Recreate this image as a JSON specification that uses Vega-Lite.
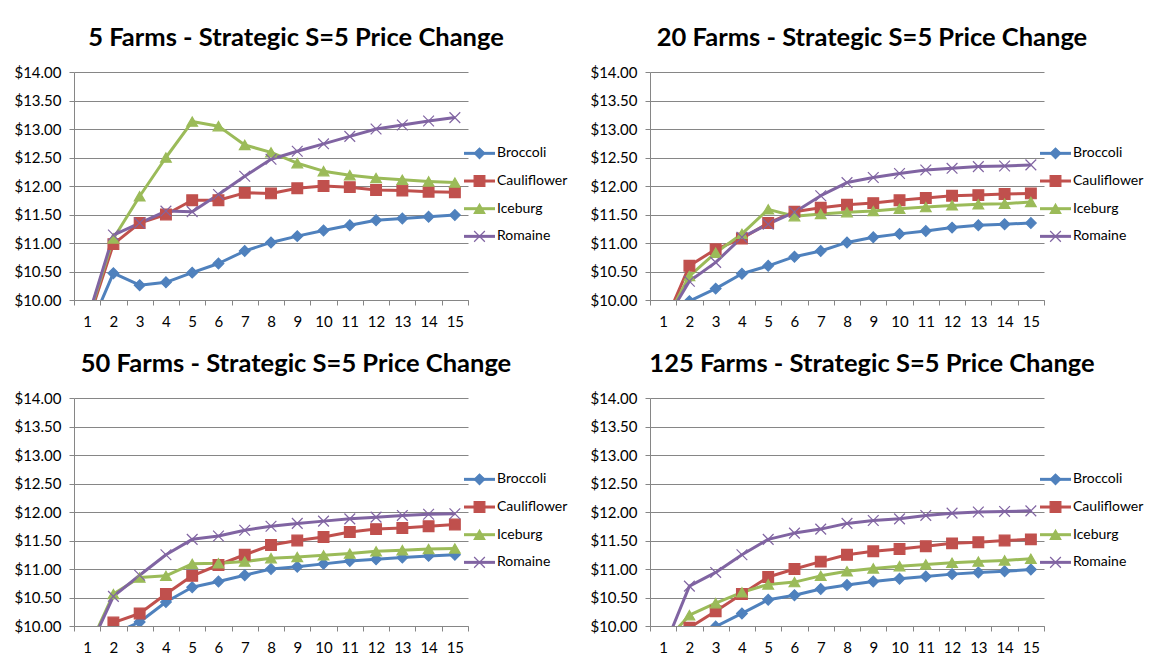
{
"$schema":"https://vega.github.io/schema/vega-lite/v6.json",
"background":"white",
"padding":{"left":13,"top":25,"right":0,"bottom":0},
"autosize":{"type":"pad"},
"config":{"font":"Lato","view":{"stroke":null},"axis":{"labelColor":"#000","domainColor":"#868686","tickColor":"#868686","gridColor":"#868686","labelFont":"Lato"}},
"datasets":{
"legend":[{"s":"Broccoli","i":0},{"s":"Cauliflower","i":1},{"s":"Iceburg","i":2},{"s":"Romaine","i":3}],
"prices":[
{"p":5,"s":"Broccoli","x":1,"y":9.40},{"p":5,"s":"Broccoli","x":2,"y":10.47},{"p":5,"s":"Broccoli","x":3,"y":10.26},{"p":5,"s":"Broccoli","x":4,"y":10.31},{"p":5,"s":"Broccoli","x":5,"y":10.48},{"p":5,"s":"Broccoli","x":6,"y":10.64},{"p":5,"s":"Broccoli","x":7,"y":10.86},{"p":5,"s":"Broccoli","x":8,"y":11.01},{"p":5,"s":"Broccoli","x":9,"y":11.12},{"p":5,"s":"Broccoli","x":10,"y":11.22},{"p":5,"s":"Broccoli","x":11,"y":11.31},{"p":5,"s":"Broccoli","x":12,"y":11.40},{"p":5,"s":"Broccoli","x":13,"y":11.43},{"p":5,"s":"Broccoli","x":14,"y":11.46},{"p":5,"s":"Broccoli","x":15,"y":11.49},
{"p":5,"s":"Cauliflower","x":1,"y":9.57},{"p":5,"s":"Cauliflower","x":2,"y":10.98},{"p":5,"s":"Cauliflower","x":3,"y":11.35},{"p":5,"s":"Cauliflower","x":4,"y":11.50},{"p":5,"s":"Cauliflower","x":5,"y":11.75},{"p":5,"s":"Cauliflower","x":6,"y":11.75},{"p":5,"s":"Cauliflower","x":7,"y":11.88},{"p":5,"s":"Cauliflower","x":8,"y":11.87},{"p":5,"s":"Cauliflower","x":9,"y":11.96},{"p":5,"s":"Cauliflower","x":10,"y":12.00},{"p":5,"s":"Cauliflower","x":11,"y":11.98},{"p":5,"s":"Cauliflower","x":12,"y":11.93},{"p":5,"s":"Cauliflower","x":13,"y":11.92},{"p":5,"s":"Cauliflower","x":14,"y":11.90},{"p":5,"s":"Cauliflower","x":15,"y":11.89},
{"p":5,"s":"Iceburg","x":1,"y":9.62},{"p":5,"s":"Iceburg","x":2,"y":11.08},{"p":5,"s":"Iceburg","x":3,"y":11.82},{"p":5,"s":"Iceburg","x":4,"y":12.50},{"p":5,"s":"Iceburg","x":5,"y":13.13},{"p":5,"s":"Iceburg","x":6,"y":13.05},{"p":5,"s":"Iceburg","x":7,"y":12.72},{"p":5,"s":"Iceburg","x":8,"y":12.59},{"p":5,"s":"Iceburg","x":9,"y":12.40},{"p":5,"s":"Iceburg","x":10,"y":12.26},{"p":5,"s":"Iceburg","x":11,"y":12.19},{"p":5,"s":"Iceburg","x":12,"y":12.14},{"p":5,"s":"Iceburg","x":13,"y":12.11},{"p":5,"s":"Iceburg","x":14,"y":12.08},{"p":5,"s":"Iceburg","x":15,"y":12.06},
{"p":5,"s":"Romaine","x":1,"y":9.64},{"p":5,"s":"Romaine","x":2,"y":11.14},{"p":5,"s":"Romaine","x":3,"y":11.35},{"p":5,"s":"Romaine","x":4,"y":11.56},{"p":5,"s":"Romaine","x":5,"y":11.55},{"p":5,"s":"Romaine","x":6,"y":11.85},{"p":5,"s":"Romaine","x":7,"y":12.17},{"p":5,"s":"Romaine","x":8,"y":12.47},{"p":5,"s":"Romaine","x":9,"y":12.61},{"p":5,"s":"Romaine","x":10,"y":12.74},{"p":5,"s":"Romaine","x":11,"y":12.87},{"p":5,"s":"Romaine","x":12,"y":13.00},{"p":5,"s":"Romaine","x":13,"y":13.07},{"p":5,"s":"Romaine","x":14,"y":13.14},{"p":5,"s":"Romaine","x":15,"y":13.20},
{"p":20,"s":"Broccoli","x":1,"y":9.40},{"p":20,"s":"Broccoli","x":2,"y":9.98},{"p":20,"s":"Broccoli","x":3,"y":10.20},{"p":20,"s":"Broccoli","x":4,"y":10.46},{"p":20,"s":"Broccoli","x":5,"y":10.60},{"p":20,"s":"Broccoli","x":6,"y":10.76},{"p":20,"s":"Broccoli","x":7,"y":10.86},{"p":20,"s":"Broccoli","x":8,"y":11.01},{"p":20,"s":"Broccoli","x":9,"y":11.10},{"p":20,"s":"Broccoli","x":10,"y":11.16},{"p":20,"s":"Broccoli","x":11,"y":11.21},{"p":20,"s":"Broccoli","x":12,"y":11.27},{"p":20,"s":"Broccoli","x":13,"y":11.31},{"p":20,"s":"Broccoli","x":14,"y":11.33},{"p":20,"s":"Broccoli","x":15,"y":11.35},
{"p":20,"s":"Cauliflower","x":1,"y":9.53},{"p":20,"s":"Cauliflower","x":2,"y":10.60},{"p":20,"s":"Cauliflower","x":3,"y":10.89},{"p":20,"s":"Cauliflower","x":4,"y":11.08},{"p":20,"s":"Cauliflower","x":5,"y":11.35},{"p":20,"s":"Cauliflower","x":6,"y":11.55},{"p":20,"s":"Cauliflower","x":7,"y":11.62},{"p":20,"s":"Cauliflower","x":8,"y":11.67},{"p":20,"s":"Cauliflower","x":9,"y":11.70},{"p":20,"s":"Cauliflower","x":10,"y":11.75},{"p":20,"s":"Cauliflower","x":11,"y":11.79},{"p":20,"s":"Cauliflower","x":12,"y":11.83},{"p":20,"s":"Cauliflower","x":13,"y":11.84},{"p":20,"s":"Cauliflower","x":14,"y":11.86},{"p":20,"s":"Cauliflower","x":15,"y":11.87},
{"p":20,"s":"Iceburg","x":1,"y":9.55},{"p":20,"s":"Iceburg","x":2,"y":10.42},{"p":20,"s":"Iceburg","x":3,"y":10.83},{"p":20,"s":"Iceburg","x":4,"y":11.16},{"p":20,"s":"Iceburg","x":5,"y":11.59},{"p":20,"s":"Iceburg","x":6,"y":11.47},{"p":20,"s":"Iceburg","x":7,"y":11.51},{"p":20,"s":"Iceburg","x":8,"y":11.54},{"p":20,"s":"Iceburg","x":9,"y":11.56},{"p":20,"s":"Iceburg","x":10,"y":11.60},{"p":20,"s":"Iceburg","x":11,"y":11.63},{"p":20,"s":"Iceburg","x":12,"y":11.66},{"p":20,"s":"Iceburg","x":13,"y":11.68},{"p":20,"s":"Iceburg","x":14,"y":11.69},{"p":20,"s":"Iceburg","x":15,"y":11.72},
{"p":20,"s":"Romaine","x":1,"y":9.56},{"p":20,"s":"Romaine","x":2,"y":10.33},{"p":20,"s":"Romaine","x":3,"y":10.66},{"p":20,"s":"Romaine","x":4,"y":11.10},{"p":20,"s":"Romaine","x":5,"y":11.33},{"p":20,"s":"Romaine","x":6,"y":11.54},{"p":20,"s":"Romaine","x":7,"y":11.83},{"p":20,"s":"Romaine","x":8,"y":12.06},{"p":20,"s":"Romaine","x":9,"y":12.15},{"p":20,"s":"Romaine","x":10,"y":12.22},{"p":20,"s":"Romaine","x":11,"y":12.28},{"p":20,"s":"Romaine","x":12,"y":12.31},{"p":20,"s":"Romaine","x":13,"y":12.34},{"p":20,"s":"Romaine","x":14,"y":12.35},{"p":20,"s":"Romaine","x":15,"y":12.37},
{"p":50,"s":"Broccoli","x":1,"y":9.30},{"p":50,"s":"Broccoli","x":2,"y":9.86},{"p":50,"s":"Broccoli","x":3,"y":10.07},{"p":50,"s":"Broccoli","x":4,"y":10.42},{"p":50,"s":"Broccoli","x":5,"y":10.68},{"p":50,"s":"Broccoli","x":6,"y":10.78},{"p":50,"s":"Broccoli","x":7,"y":10.89},{"p":50,"s":"Broccoli","x":8,"y":11.00},{"p":50,"s":"Broccoli","x":9,"y":11.04},{"p":50,"s":"Broccoli","x":10,"y":11.09},{"p":50,"s":"Broccoli","x":11,"y":11.14},{"p":50,"s":"Broccoli","x":12,"y":11.17},{"p":50,"s":"Broccoli","x":13,"y":11.20},{"p":50,"s":"Broccoli","x":14,"y":11.23},{"p":50,"s":"Broccoli","x":15,"y":11.25},
{"p":50,"s":"Cauliflower","x":1,"y":9.50},{"p":50,"s":"Cauliflower","x":2,"y":10.06},{"p":50,"s":"Cauliflower","x":3,"y":10.22},{"p":50,"s":"Cauliflower","x":4,"y":10.56},{"p":50,"s":"Cauliflower","x":5,"y":10.88},{"p":50,"s":"Cauliflower","x":6,"y":11.07},{"p":50,"s":"Cauliflower","x":7,"y":11.25},{"p":50,"s":"Cauliflower","x":8,"y":11.42},{"p":50,"s":"Cauliflower","x":9,"y":11.50},{"p":50,"s":"Cauliflower","x":10,"y":11.56},{"p":50,"s":"Cauliflower","x":11,"y":11.65},{"p":50,"s":"Cauliflower","x":12,"y":11.70},{"p":50,"s":"Cauliflower","x":13,"y":11.72},{"p":50,"s":"Cauliflower","x":14,"y":11.75},{"p":50,"s":"Cauliflower","x":15,"y":11.78},
{"p":50,"s":"Iceburg","x":1,"y":9.55},{"p":50,"s":"Iceburg","x":2,"y":10.56},{"p":50,"s":"Iceburg","x":3,"y":10.85},{"p":50,"s":"Iceburg","x":4,"y":10.88},{"p":50,"s":"Iceburg","x":5,"y":11.09},{"p":50,"s":"Iceburg","x":6,"y":11.10},{"p":50,"s":"Iceburg","x":7,"y":11.13},{"p":50,"s":"Iceburg","x":8,"y":11.19},{"p":50,"s":"Iceburg","x":9,"y":11.21},{"p":50,"s":"Iceburg","x":10,"y":11.24},{"p":50,"s":"Iceburg","x":11,"y":11.27},{"p":50,"s":"Iceburg","x":12,"y":11.31},{"p":50,"s":"Iceburg","x":13,"y":11.33},{"p":50,"s":"Iceburg","x":14,"y":11.35},{"p":50,"s":"Iceburg","x":15,"y":11.36},
{"p":50,"s":"Romaine","x":1,"y":9.52},{"p":50,"s":"Romaine","x":2,"y":10.52},{"p":50,"s":"Romaine","x":3,"y":10.89},{"p":50,"s":"Romaine","x":4,"y":11.25},{"p":50,"s":"Romaine","x":5,"y":11.52},{"p":50,"s":"Romaine","x":6,"y":11.58},{"p":50,"s":"Romaine","x":7,"y":11.68},{"p":50,"s":"Romaine","x":8,"y":11.75},{"p":50,"s":"Romaine","x":9,"y":11.80},{"p":50,"s":"Romaine","x":10,"y":11.84},{"p":50,"s":"Romaine","x":11,"y":11.88},{"p":50,"s":"Romaine","x":12,"y":11.91},{"p":50,"s":"Romaine","x":13,"y":11.94},{"p":50,"s":"Romaine","x":14,"y":11.96},{"p":50,"s":"Romaine","x":15,"y":11.97},
{"p":125,"s":"Broccoli","x":1,"y":9.30},{"p":125,"s":"Broccoli","x":2,"y":9.70},{"p":125,"s":"Broccoli","x":3,"y":9.99},{"p":125,"s":"Broccoli","x":4,"y":10.22},{"p":125,"s":"Broccoli","x":5,"y":10.46},{"p":125,"s":"Broccoli","x":6,"y":10.54},{"p":125,"s":"Broccoli","x":7,"y":10.65},{"p":125,"s":"Broccoli","x":8,"y":10.72},{"p":125,"s":"Broccoli","x":9,"y":10.78},{"p":125,"s":"Broccoli","x":10,"y":10.83},{"p":125,"s":"Broccoli","x":11,"y":10.87},{"p":125,"s":"Broccoli","x":12,"y":10.91},{"p":125,"s":"Broccoli","x":13,"y":10.94},{"p":125,"s":"Broccoli","x":14,"y":10.96},{"p":125,"s":"Broccoli","x":15,"y":10.99},
{"p":125,"s":"Cauliflower","x":1,"y":9.50},{"p":125,"s":"Cauliflower","x":2,"y":9.97},{"p":125,"s":"Cauliflower","x":3,"y":10.26},{"p":125,"s":"Cauliflower","x":4,"y":10.56},{"p":125,"s":"Cauliflower","x":5,"y":10.86},{"p":125,"s":"Cauliflower","x":6,"y":11.00},{"p":125,"s":"Cauliflower","x":7,"y":11.13},{"p":125,"s":"Cauliflower","x":8,"y":11.25},{"p":125,"s":"Cauliflower","x":9,"y":11.31},{"p":125,"s":"Cauliflower","x":10,"y":11.35},{"p":125,"s":"Cauliflower","x":11,"y":11.40},{"p":125,"s":"Cauliflower","x":12,"y":11.45},{"p":125,"s":"Cauliflower","x":13,"y":11.47},{"p":125,"s":"Cauliflower","x":14,"y":11.50},{"p":125,"s":"Cauliflower","x":15,"y":11.52},
{"p":125,"s":"Iceburg","x":1,"y":9.68},{"p":125,"s":"Iceburg","x":2,"y":10.19},{"p":125,"s":"Iceburg","x":3,"y":10.40},{"p":125,"s":"Iceburg","x":4,"y":10.59},{"p":125,"s":"Iceburg","x":5,"y":10.73},{"p":125,"s":"Iceburg","x":6,"y":10.77},{"p":125,"s":"Iceburg","x":7,"y":10.88},{"p":125,"s":"Iceburg","x":8,"y":10.96},{"p":125,"s":"Iceburg","x":9,"y":11.01},{"p":125,"s":"Iceburg","x":10,"y":11.05},{"p":125,"s":"Iceburg","x":11,"y":11.08},{"p":125,"s":"Iceburg","x":12,"y":11.11},{"p":125,"s":"Iceburg","x":13,"y":11.13},{"p":125,"s":"Iceburg","x":14,"y":11.15},{"p":125,"s":"Iceburg","x":15,"y":11.18},
{"p":125,"s":"Romaine","x":1,"y":9.57},{"p":125,"s":"Romaine","x":2,"y":10.70},{"p":125,"s":"Romaine","x":3,"y":10.94},{"p":125,"s":"Romaine","x":4,"y":11.25},{"p":125,"s":"Romaine","x":5,"y":11.52},{"p":125,"s":"Romaine","x":6,"y":11.63},{"p":125,"s":"Romaine","x":7,"y":11.70},{"p":125,"s":"Romaine","x":8,"y":11.80},{"p":125,"s":"Romaine","x":9,"y":11.85},{"p":125,"s":"Romaine","x":10,"y":11.88},{"p":125,"s":"Romaine","x":11,"y":11.94},{"p":125,"s":"Romaine","x":12,"y":11.98},{"p":125,"s":"Romaine","x":13,"y":12.00},{"p":125,"s":"Romaine","x":14,"y":12.01},{"p":125,"s":"Romaine","x":15,"y":12.02}
]},
"bounds":"flush",
"columns":4,
"spacing":{"row":98,"column":0},
"concat":[
{"width":394,"height":228,
"title":{"text":"5 Farms - Strategic S=5 Price Change","fontSize":25.5,"fontWeight":"bold","font":"Lato","color":"#000","anchor":"middle","frame":"group","dx":25,"dy":31,"offset":25,"baseline":"alphabetic"},
"data":{"name":"prices"},"transform":[{"filter":"datum.p == 5"}],
"encoding":{
"x":{"field":"x","type":"ordinal","scale":{"type":"band","paddingInner":0,"paddingOuter":0},"axis":{"title":null,"labelAngle":0,"tickBand":"extent","grid":false,"tickSize":5,"labelPadding":9,"labelFontSize":15}},
"y":{"field":"y","type":"quantitative","scale":{"domain":[10,14],"nice":false,"zero":false},"axis":{"title":null,"values":[10,10.5,11,11.5,12,12.5,13,13.5,14],"format":"$.2f","grid":true,"tickSize":5,"labelPadding":8,"labelFontSize":15}}},
"layer":[
{"mark":{"type":"line","strokeWidth":3,"clip":true,"strokeJoin":"round"},"encoding":{"color":{"field":"s","type":"nominal","scale":{"domain":["Broccoli","Cauliflower","Iceburg","Romaine"],"range":["#4F81BD","#C0504D","#9BBB59","#8064A2"]},"legend":null}}},
{"mark":{"type":"point","clip":true,"opacity":1,"strokeWidth":1.2,"size":115},"encoding":{"shape":{"field":"s","type":"nominal","scale":{"domain":["Broccoli","Cauliflower","Iceburg","Romaine"],"range":["diamond","square","triangle-up","M-1,-1L1,1M-1,1L1,-1"]},"legend":null},"fill":{"field":"s","type":"nominal","scale":{"domain":["Broccoli","Cauliflower","Iceburg","Romaine"],"range":["#4F81BD","#C0504D","#9BBB59","transparent"]},"legend":null},"stroke":{"field":"s","type":"nominal","scale":{"domain":["Broccoli","Cauliflower","Iceburg","Romaine"],"range":["#4F81BD","#C0504D","#9BBB59","#8064A2"]},"legend":null}}}
]},
{"width":182,"height":228,"data":{"name":"legend"},
"encoding":{"y":{"field":"i","type":"quantitative","scale":{"domain":[-2.94,5.3],"reverse":true,"nice":false,"zero":false},"axis":null}},
"layer":[
{"mark":{"type":"rule","strokeWidth":3},"encoding":{"x":{"datum":0,"type":"quantitative","scale":{"domain":[0.129,6.0],"nice":false,"zero":false},"axis":null},"x2":{"datum":1},"color":{"field":"s","type":"nominal","scale":{"domain":["Broccoli","Cauliflower","Iceburg","Romaine"],"range":["#4F81BD","#C0504D","#9BBB59","#8064A2"]},"legend":null}}},
{"mark":{"type":"point","opacity":1,"strokeWidth":1.2,"size":115},"encoding":{"x":{"datum":0.5,"type":"quantitative","axis":null},"shape":{"field":"s","type":"nominal","scale":{"domain":["Broccoli","Cauliflower","Iceburg","Romaine"],"range":["diamond","square","triangle-up","M-1,-1L1,1M-1,1L1,-1"]},"legend":null},"fill":{"field":"s","type":"nominal","scale":{"domain":["Broccoli","Cauliflower","Iceburg","Romaine"],"range":["#4F81BD","#C0504D","#9BBB59","transparent"]},"legend":null},"stroke":{"field":"s","type":"nominal","scale":{"domain":["Broccoli","Cauliflower","Iceburg","Romaine"],"range":["#4F81BD","#C0504D","#9BBB59","#8064A2"]},"legend":null}}},
{"mark":{"type":"text","align":"left","baseline":"middle","fontSize":14,"font":"Lato","color":"#000"},"encoding":{"x":{"datum":1.065,"type":"quantitative","axis":null},"text":{"field":"s"}}}
]},
{"width":394,"height":228,
"title":{"text":"20 Farms - Strategic S=5 Price Change","fontSize":25.5,"fontWeight":"bold","font":"Lato","color":"#000","anchor":"middle","frame":"group","dx":25,"dy":31,"offset":25,"baseline":"alphabetic"},
"data":{"name":"prices"},"transform":[{"filter":"datum.p == 20"}],
"encoding":{
"x":{"field":"x","type":"ordinal","scale":{"type":"band","paddingInner":0,"paddingOuter":0},"axis":{"title":null,"labelAngle":0,"tickBand":"extent","grid":false,"tickSize":5,"labelPadding":9,"labelFontSize":15}},
"y":{"field":"y","type":"quantitative","scale":{"domain":[10,14],"nice":false,"zero":false},"axis":{"title":null,"values":[10,10.5,11,11.5,12,12.5,13,13.5,14],"format":"$.2f","grid":true,"tickSize":5,"labelPadding":8,"labelFontSize":15}}},
"layer":[
{"mark":{"type":"line","strokeWidth":3,"clip":true,"strokeJoin":"round"},"encoding":{"color":{"field":"s","type":"nominal","scale":{"domain":["Broccoli","Cauliflower","Iceburg","Romaine"],"range":["#4F81BD","#C0504D","#9BBB59","#8064A2"]},"legend":null}}},
{"mark":{"type":"point","clip":true,"opacity":1,"strokeWidth":1.2,"size":115},"encoding":{"shape":{"field":"s","type":"nominal","scale":{"domain":["Broccoli","Cauliflower","Iceburg","Romaine"],"range":["diamond","square","triangle-up","M-1,-1L1,1M-1,1L1,-1"]},"legend":null},"fill":{"field":"s","type":"nominal","scale":{"domain":["Broccoli","Cauliflower","Iceburg","Romaine"],"range":["#4F81BD","#C0504D","#9BBB59","transparent"]},"legend":null},"stroke":{"field":"s","type":"nominal","scale":{"domain":["Broccoli","Cauliflower","Iceburg","Romaine"],"range":["#4F81BD","#C0504D","#9BBB59","#8064A2"]},"legend":null}}}
]},
{"width":100,"height":228,"data":{"name":"legend"},
"encoding":{"y":{"field":"i","type":"quantitative","scale":{"domain":[-2.94,5.3],"reverse":true,"nice":false,"zero":false},"axis":null}},
"layer":[
{"mark":{"type":"rule","strokeWidth":3},"encoding":{"x":{"datum":0,"type":"quantitative","scale":{"domain":[0.129,3.355],"nice":false,"zero":false},"axis":null},"x2":{"datum":1},"color":{"field":"s","type":"nominal","scale":{"domain":["Broccoli","Cauliflower","Iceburg","Romaine"],"range":["#4F81BD","#C0504D","#9BBB59","#8064A2"]},"legend":null}}},
{"mark":{"type":"point","opacity":1,"strokeWidth":1.2,"size":115},"encoding":{"x":{"datum":0.5,"type":"quantitative","axis":null},"shape":{"field":"s","type":"nominal","scale":{"domain":["Broccoli","Cauliflower","Iceburg","Romaine"],"range":["diamond","square","triangle-up","M-1,-1L1,1M-1,1L1,-1"]},"legend":null},"fill":{"field":"s","type":"nominal","scale":{"domain":["Broccoli","Cauliflower","Iceburg","Romaine"],"range":["#4F81BD","#C0504D","#9BBB59","transparent"]},"legend":null},"stroke":{"field":"s","type":"nominal","scale":{"domain":["Broccoli","Cauliflower","Iceburg","Romaine"],"range":["#4F81BD","#C0504D","#9BBB59","#8064A2"]},"legend":null}}},
{"mark":{"type":"text","align":"left","baseline":"middle","fontSize":14,"font":"Lato","color":"#000"},"encoding":{"x":{"datum":1.065,"type":"quantitative","axis":null},"text":{"field":"s"}}}
]},
{"width":394,"height":228,
"title":{"text":"50 Farms - Strategic S=5 Price Change","fontSize":25.5,"fontWeight":"bold","font":"Lato","color":"#000","anchor":"middle","frame":"group","dx":25,"dy":31,"offset":25,"baseline":"alphabetic"},
"data":{"name":"prices"},"transform":[{"filter":"datum.p == 50"}],
"encoding":{
"x":{"field":"x","type":"ordinal","scale":{"type":"band","paddingInner":0,"paddingOuter":0},"axis":{"title":null,"labelAngle":0,"tickBand":"extent","grid":false,"tickSize":5,"labelPadding":9,"labelFontSize":15}},
"y":{"field":"y","type":"quantitative","scale":{"domain":[10,14],"nice":false,"zero":false},"axis":{"title":null,"values":[10,10.5,11,11.5,12,12.5,13,13.5,14],"format":"$.2f","grid":true,"tickSize":5,"labelPadding":8,"labelFontSize":15}}},
"layer":[
{"mark":{"type":"line","strokeWidth":3,"clip":true,"strokeJoin":"round"},"encoding":{"color":{"field":"s","type":"nominal","scale":{"domain":["Broccoli","Cauliflower","Iceburg","Romaine"],"range":["#4F81BD","#C0504D","#9BBB59","#8064A2"]},"legend":null}}},
{"mark":{"type":"point","clip":true,"opacity":1,"strokeWidth":1.2,"size":115},"encoding":{"shape":{"field":"s","type":"nominal","scale":{"domain":["Broccoli","Cauliflower","Iceburg","Romaine"],"range":["diamond","square","triangle-up","M-1,-1L1,1M-1,1L1,-1"]},"legend":null},"fill":{"field":"s","type":"nominal","scale":{"domain":["Broccoli","Cauliflower","Iceburg","Romaine"],"range":["#4F81BD","#C0504D","#9BBB59","transparent"]},"legend":null},"stroke":{"field":"s","type":"nominal","scale":{"domain":["Broccoli","Cauliflower","Iceburg","Romaine"],"range":["#4F81BD","#C0504D","#9BBB59","#8064A2"]},"legend":null}}}
]},
{"width":182,"height":228,"data":{"name":"legend"},
"encoding":{"y":{"field":"i","type":"quantitative","scale":{"domain":[-2.94,5.3],"reverse":true,"nice":false,"zero":false},"axis":null}},
"layer":[
{"mark":{"type":"rule","strokeWidth":3},"encoding":{"x":{"datum":0,"type":"quantitative","scale":{"domain":[0.129,6.0],"nice":false,"zero":false},"axis":null},"x2":{"datum":1},"color":{"field":"s","type":"nominal","scale":{"domain":["Broccoli","Cauliflower","Iceburg","Romaine"],"range":["#4F81BD","#C0504D","#9BBB59","#8064A2"]},"legend":null}}},
{"mark":{"type":"point","opacity":1,"strokeWidth":1.2,"size":115},"encoding":{"x":{"datum":0.5,"type":"quantitative","axis":null},"shape":{"field":"s","type":"nominal","scale":{"domain":["Broccoli","Cauliflower","Iceburg","Romaine"],"range":["diamond","square","triangle-up","M-1,-1L1,1M-1,1L1,-1"]},"legend":null},"fill":{"field":"s","type":"nominal","scale":{"domain":["Broccoli","Cauliflower","Iceburg","Romaine"],"range":["#4F81BD","#C0504D","#9BBB59","transparent"]},"legend":null},"stroke":{"field":"s","type":"nominal","scale":{"domain":["Broccoli","Cauliflower","Iceburg","Romaine"],"range":["#4F81BD","#C0504D","#9BBB59","#8064A2"]},"legend":null}}},
{"mark":{"type":"text","align":"left","baseline":"middle","fontSize":14,"font":"Lato","color":"#000"},"encoding":{"x":{"datum":1.065,"type":"quantitative","axis":null},"text":{"field":"s"}}}
]},
{"width":394,"height":228,
"title":{"text":"125 Farms - Strategic S=5 Price Change","fontSize":25.5,"fontWeight":"bold","font":"Lato","color":"#000","anchor":"middle","frame":"group","dx":25,"dy":31,"offset":25,"baseline":"alphabetic"},
"data":{"name":"prices"},"transform":[{"filter":"datum.p == 125"}],
"encoding":{
"x":{"field":"x","type":"ordinal","scale":{"type":"band","paddingInner":0,"paddingOuter":0},"axis":{"title":null,"labelAngle":0,"tickBand":"extent","grid":false,"tickSize":5,"labelPadding":9,"labelFontSize":15}},
"y":{"field":"y","type":"quantitative","scale":{"domain":[10,14],"nice":false,"zero":false},"axis":{"title":null,"values":[10,10.5,11,11.5,12,12.5,13,13.5,14],"format":"$.2f","grid":true,"tickSize":5,"labelPadding":8,"labelFontSize":15}}},
"layer":[
{"mark":{"type":"line","strokeWidth":3,"clip":true,"strokeJoin":"round"},"encoding":{"color":{"field":"s","type":"nominal","scale":{"domain":["Broccoli","Cauliflower","Iceburg","Romaine"],"range":["#4F81BD","#C0504D","#9BBB59","#8064A2"]},"legend":null}}},
{"mark":{"type":"point","clip":true,"opacity":1,"strokeWidth":1.2,"size":115},"encoding":{"shape":{"field":"s","type":"nominal","scale":{"domain":["Broccoli","Cauliflower","Iceburg","Romaine"],"range":["diamond","square","triangle-up","M-1,-1L1,1M-1,1L1,-1"]},"legend":null},"fill":{"field":"s","type":"nominal","scale":{"domain":["Broccoli","Cauliflower","Iceburg","Romaine"],"range":["#4F81BD","#C0504D","#9BBB59","transparent"]},"legend":null},"stroke":{"field":"s","type":"nominal","scale":{"domain":["Broccoli","Cauliflower","Iceburg","Romaine"],"range":["#4F81BD","#C0504D","#9BBB59","#8064A2"]},"legend":null}}}
]},
{"width":100,"height":228,"data":{"name":"legend"},
"encoding":{"y":{"field":"i","type":"quantitative","scale":{"domain":[-2.94,5.3],"reverse":true,"nice":false,"zero":false},"axis":null}},
"layer":[
{"mark":{"type":"rule","strokeWidth":3},"encoding":{"x":{"datum":0,"type":"quantitative","scale":{"domain":[0.129,3.355],"nice":false,"zero":false},"axis":null},"x2":{"datum":1},"color":{"field":"s","type":"nominal","scale":{"domain":["Broccoli","Cauliflower","Iceburg","Romaine"],"range":["#4F81BD","#C0504D","#9BBB59","#8064A2"]},"legend":null}}},
{"mark":{"type":"point","opacity":1,"strokeWidth":1.2,"size":115},"encoding":{"x":{"datum":0.5,"type":"quantitative","axis":null},"shape":{"field":"s","type":"nominal","scale":{"domain":["Broccoli","Cauliflower","Iceburg","Romaine"],"range":["diamond","square","triangle-up","M-1,-1L1,1M-1,1L1,-1"]},"legend":null},"fill":{"field":"s","type":"nominal","scale":{"domain":["Broccoli","Cauliflower","Iceburg","Romaine"],"range":["#4F81BD","#C0504D","#9BBB59","transparent"]},"legend":null},"stroke":{"field":"s","type":"nominal","scale":{"domain":["Broccoli","Cauliflower","Iceburg","Romaine"],"range":["#4F81BD","#C0504D","#9BBB59","#8064A2"]},"legend":null}}},
{"mark":{"type":"text","align":"left","baseline":"middle","fontSize":14,"font":"Lato","color":"#000"},"encoding":{"x":{"datum":1.065,"type":"quantitative","axis":null},"text":{"field":"s"}}}
]}
]
}
